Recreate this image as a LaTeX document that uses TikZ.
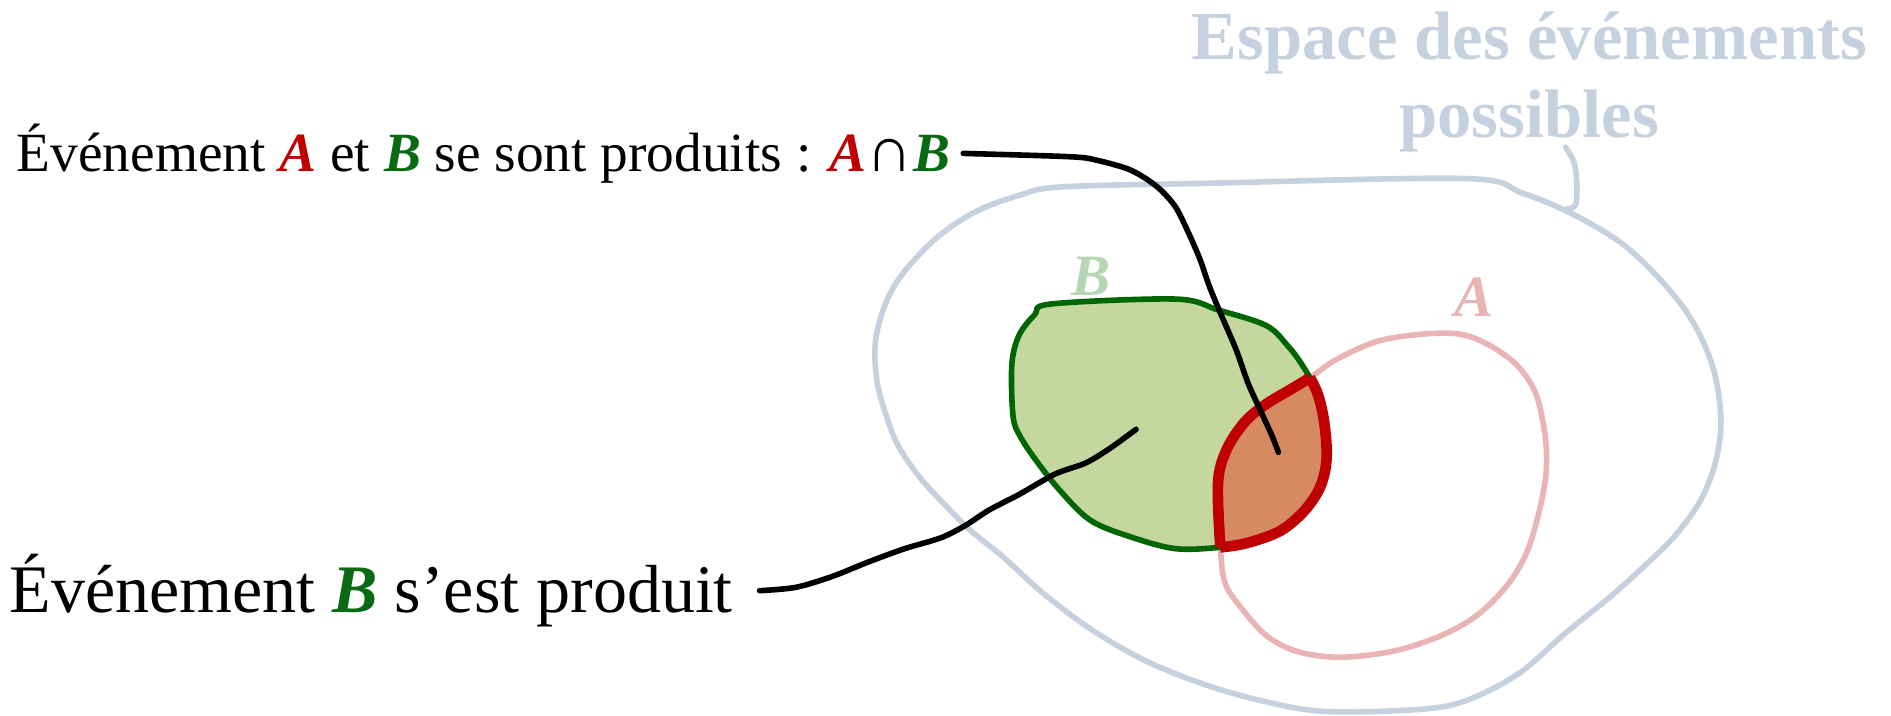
\documentclass[tikz,border=0pt]{standalone}
\usepackage{fontspec}
\setmainfont{Liberation Serif}
\begin{document}
\begin{tikzpicture}[x=0.9045pt,y=-0.9045pt,
  lbl/.style={inner sep=0pt,outer sep=0pt,anchor=base west},
  wob/.style={line width=4.2pt,line cap=round,line join=round},
  ]
\definecolor{space}{HTML}{C5D1DE}
\definecolor{pinkA}{HTML}{E8B4B4}
\definecolor{lgB}{HTML}{B6D5B3}
\definecolor{fillB}{HTML}{C4D79F}
\definecolor{strB}{HTML}{006600}
\definecolor{strA}{HTML}{C00000}
\definecolor{fillAB}{HTML}{D68A62}
\definecolor{txtB}{HTML}{0A6A14}
\useasboundingbox (0,0) rectangle (1568,593);
\def\pathB{plot[smooth cycle,tension=0.55] coordinates {(872,252) (975,248) (1010,257) (1050,270) (1068,287) (1080,303) (1092,325) (1098,350) (1100,380) (1095,403) (1082,423) (1062,440) (1035,450) (1010,454) (975,455) (940,446) (905,432) (880,408) (860,383) (846,362) (840,345) (839,302) (845,278) (858,261)}}
\def\pathA{plot[smooth cycle,tension=0.55] coordinates {(1012,455) (1010,400) (1017,373) (1032,350) (1050,335) (1070,323) (1088,312) (1110,297) (1150,281) (1210,277) (1250,296) (1272,323) (1281,360) (1282,392) (1276,425) (1266,458) (1250,485) (1225,510) (1195,527) (1155,540) (1110,545) (1075,540) (1050,527) (1030,505) (1016,484)}}
% event space
\draw[wob,space] plot[smooth cycle,tension=0.55] coordinates {(880,155) (1000,152) (1215,148) (1262,160) (1305,178) (1345,202) (1375,230) (1398,258) (1413,285) (1423,315) (1427,352) (1422,385) (1410,415) (1390,443) (1365,468) (1335,495) (1298,525) (1260,558) (1218,580) (1180,588) (1100,590) (1050,582) (1000,568) (950,548) (905,522) (865,492) (832,462) (805,440) (780,415) (762,395) (745,370) (735,345) (727,315) (726,282) (735,250) (750,225) (778,196) (810,175) (845,162)};
\node[text=space,align=center,inner sep=0pt,font={\fontsize{51.5}{58}\selectfont\bfseries}] (title) at (1268,68) {Espace des événements\\possibles};
\coordinate (ptrend) at (1299,173);
\draw[wob,space] plot[smooth,tension=0.6] coordinates {(1298,122) (1306,138) (1307,168) (ptrend)};
% A
\draw[wob,pinkA] \pathA;
\node[text=pinkA,inner sep=0pt,font={\fontsize{44}{50}\selectfont\bfseries\itshape}] (labA) at (1222,246) {A};
% B
\fill[fillB] \pathB;
\begin{scope}
\clip \pathB;
\fill[fillAB] \pathA;
\end{scope}
\draw[wob,strB] \pathB;
\begin{scope}
\clip \pathB;
\draw[strA,line width=8pt] \pathA;
\end{scope}
\begin{scope}
\clip \pathA;
\draw[strA,line width=8pt] \pathB;
\end{scope}
\node[text=lgB,inner sep=0pt,font={\fontsize{44}{50}\selectfont\bfseries\itshape}] (labB) at (905,229) {B};
% labels
\node[lbl,font={\fontsize{41.5}{46}\selectfont}] (toplbl) at (14,142) {Événement \textcolor{strA}{\textbf{\textit{A}}} et \textcolor{txtB}{\textbf{\textit{B}}} se sont produits : \textcolor{strA}{\textbf{\textit{A}}}{\fontsize{48}{50}\selectfont∩}\textcolor{txtB}{\textbf{\textit{B}}}};
\node[lbl,font={\fontsize{51}{58}\selectfont}] (botlbl) at (8,508) {Événement \textcolor{txtB}{\textbf{\textit{B}}} s’est produit};
\coordinate (topend) at (1060,375);
\coordinate (botend) at (942,356);
\draw[wob,black] plot[smooth,tension=0.5] coordinates {([xshift=10pt]toplbl.east) (888,130) (910,133) (935,140) (950,148) (963,158) (975,172) (985,192) (995,215) (1003,238) (1013,262) (1025,290) (1035,318) (1045,340) (1055,362) (topend)};
\draw[wob,black] plot[smooth,tension=0.5] coordinates {([xshift=20pt]botlbl.east) (660,487) (690,478) (720,466) (750,455) (780,446) (800,436) (820,423) (845,410) (875,393) (900,384) (920,372) (botend)};
\end{tikzpicture}
\end{document}
